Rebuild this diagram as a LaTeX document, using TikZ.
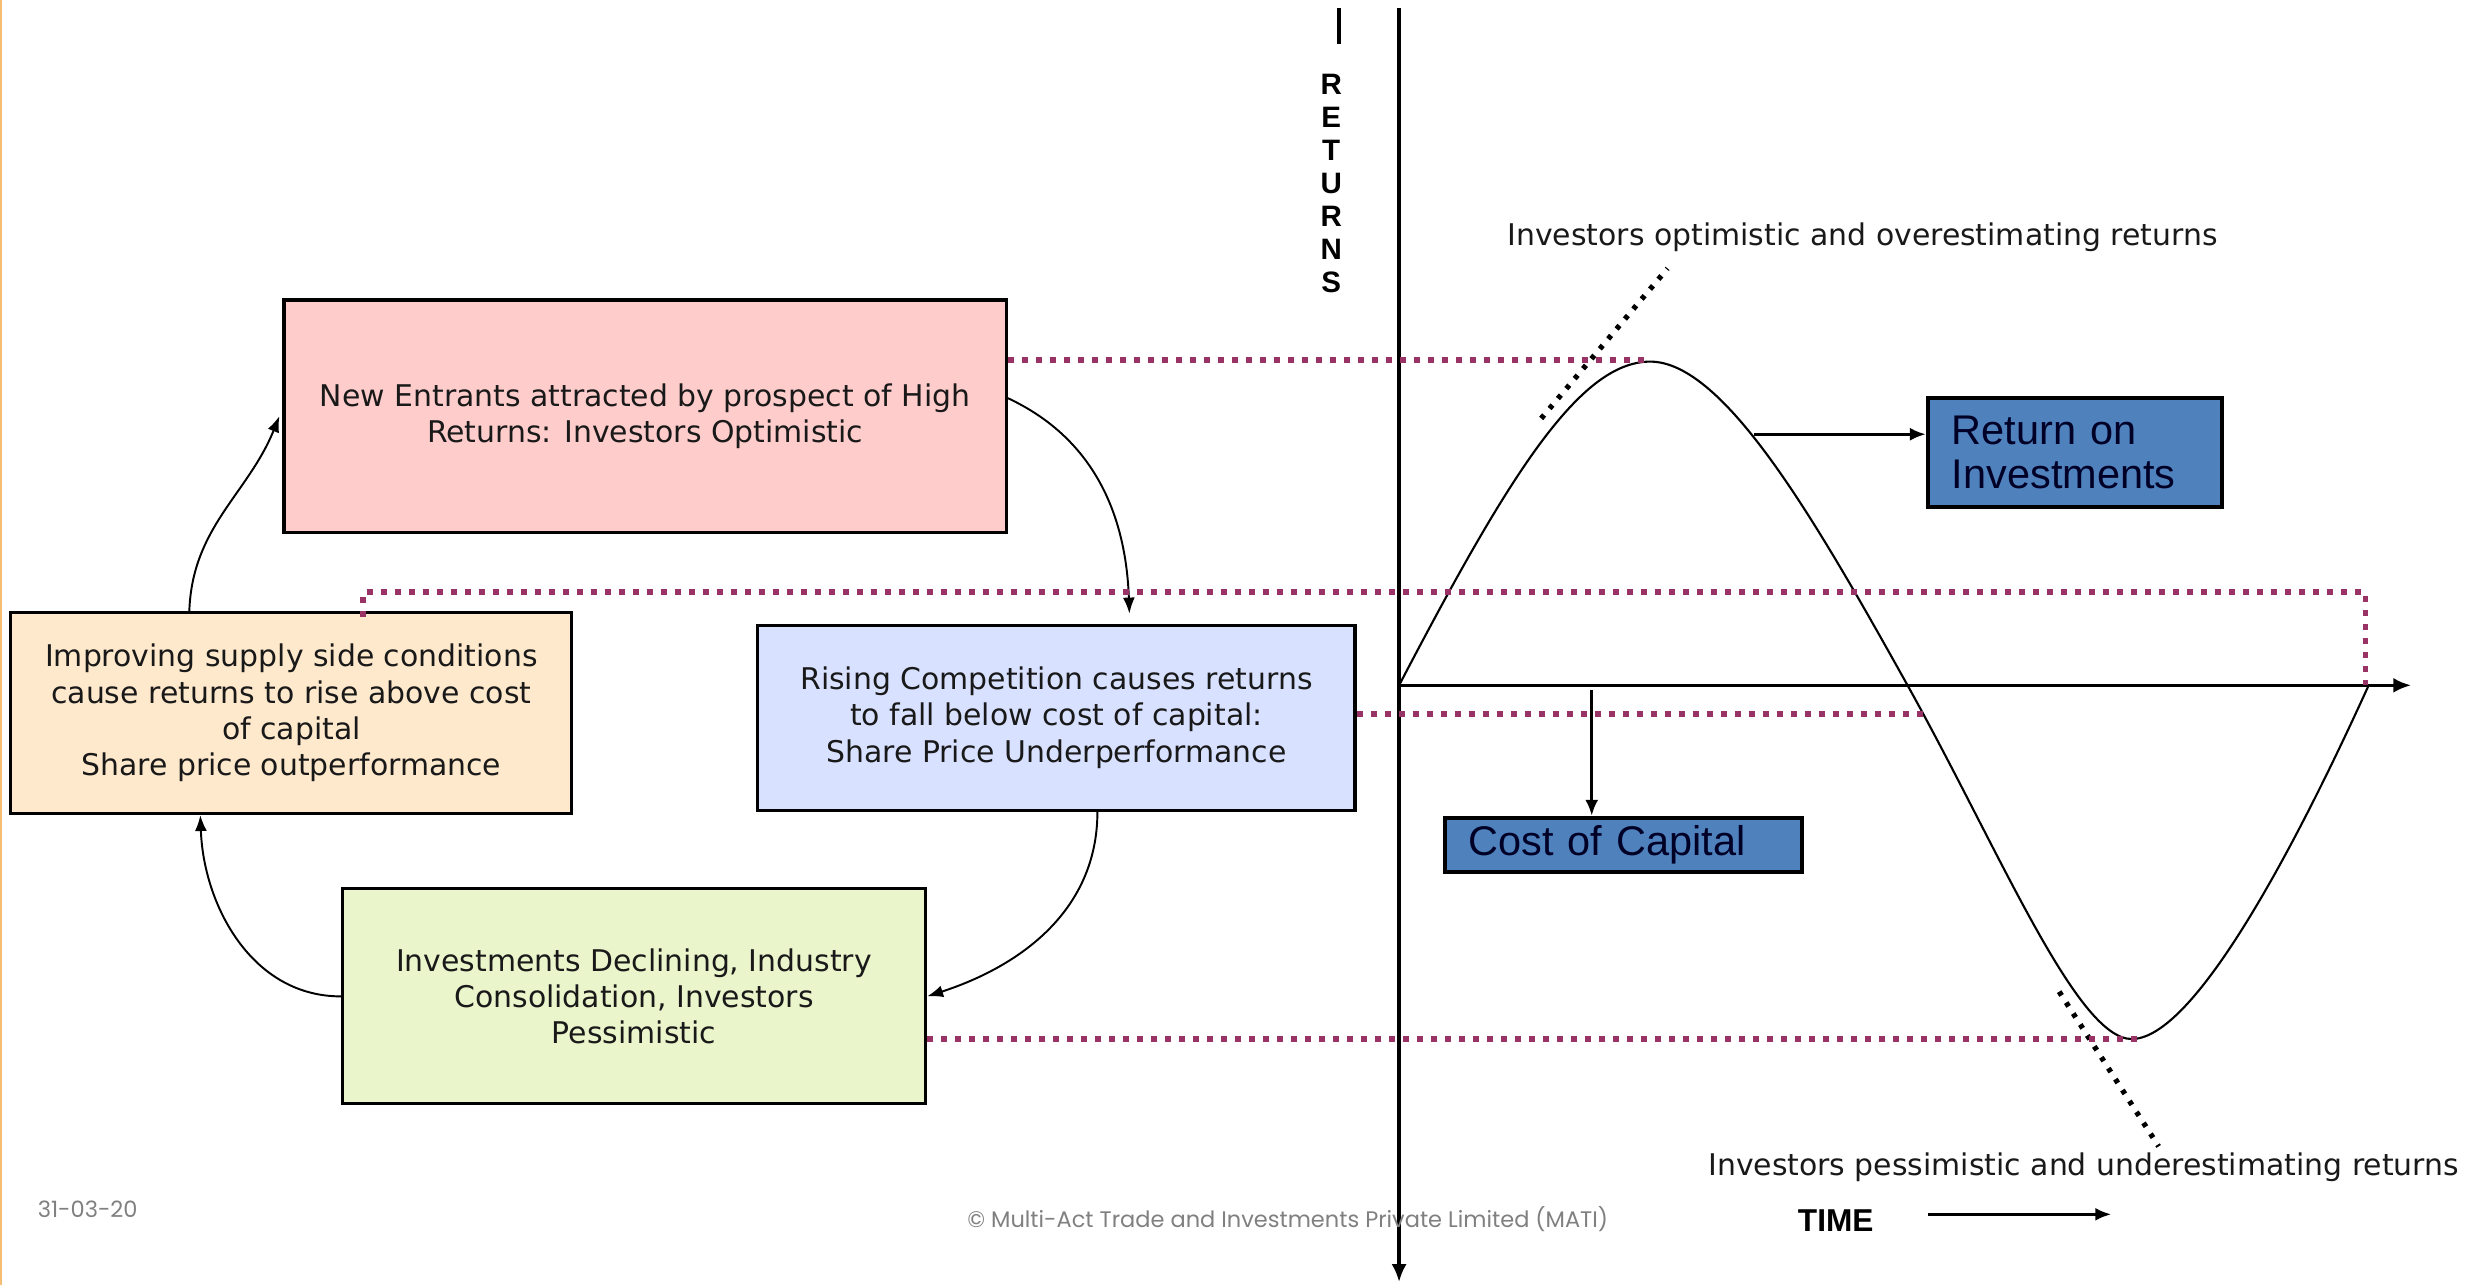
\documentclass[tikz,border=0pt]{standalone}
\usepackage{fontspec}
\setmainfont{DejaVu Sans}
\newfontfamily\tahomafont{Liberation Sans}
\newfontfamily\gothicfont{Poppins}
\usepackage{xcolor}
\usepackage{tikz}
\usetikzlibrary{arrows.meta, positioning}

\definecolor{levelpurple}{HTML}{993366}
\definecolor{highpink}{HTML}{FFCCCC}
\definecolor{risepeach}{HTML}{FFE9CC}
\definecolor{falllilac}{HTML}{D8E1FF}
\definecolor{lowlime}{HTML}{EBF5CC}
\definecolor{legendblue}{HTML}{4F81BD}
\definecolor{slideedge}{HTML}{F5BE74}

\tikzset{
  stage/.style={draw, line width=0.9pt, align=center, inner sep=0pt, text=black!90,
    font=\fontsize{8.5}{10.3}\selectfont},
  legend/.style={draw, line width=1.1pt, fill=legendblue, align=left, inner ysep=0pt,
    inner xsep=2.4mm, text=black!85!blue, font=\tahomafont\fontsize{11.8}{12.4}\selectfont},
  cycle arrow/.style={line width=0.55pt, -{Latex[length=1.6mm,width=1.2mm]}},
  pointer/.style={line width=0.9pt, -{Latex[length=1.6mm,width=1.3mm]}},
  axis/.style={line width=1pt, -{Latex[length=1.8mm,width=1.5mm]}},
  level/.style={levelpurple, line width=1.7pt, dash pattern=on 0.6mm off 0.8mm},
  tangent/.style={line width=1.5pt, dash pattern=on 0.45mm off 0.85mm},
  note/.style={text=black!90, font=\fontsize{8.5}{10}\selectfont},
  footer/.style={text=black!50, font=\gothicfont\fontsize{6.4}{8}\selectfont}
}

\begin{document}
\begin{tikzpicture}[x=0.1579mm, y=-0.1579mm]
  \useasboundingbox (0,0) rectangle (1568,814);
  \draw[slideedge, line width=0.5pt] (0.5,0) -- (0.5,814);

  % cycle of the four stages
  \node[stage, fill=highpink, minimum width=72.2mm, minimum height=23.2mm] (high) at (408.5,263.5)
    {New Entrants attracted by prospect of High\\Returns: Investors Optimistic};
  \node[stage, fill=falllilac, minimum width=59.7mm, minimum height=18.5mm] (fall) at (669,454.5)
    {Rising Competition causes returns\\to fall below cost of capital:\\Share Price Underperformance};
  \node[stage, fill=lowlime, minimum width=58.3mm, minimum height=21.5mm] (low) at (401.5,631)
    {Investments Declining, Industry\\Consolidation, Investors\\Pessimistic};
  \node[stage, fill=risepeach, minimum width=56.1mm, minimum height=20.1mm] (rise) at (184.5,451.5)
    {Improving supply side conditions\\cause returns to rise above cost\\of capital\\Share price outperformance};

  \draw[cycle arrow] ([yshift=1.8mm]high.east) to[out=-25,in=92] ([xshift=7.3mm,yshift=1mm]fall.north);
  \draw[cycle arrow] ([xshift=4.1mm]fall.south) to[out=-90,in=18] (low.east);
  \draw[cycle arrow] (low.west) to[out=180,in=-88] ([xshift=-9.1mm]rise.south);
  \draw[cycle arrow] ([xshift=-10.2mm]rise.north) to[out=88,in=-112] ([xshift=-0.3mm]high.west);

  % axes
  \coordinate (origin) at (886,434);
  \coordinate (ytop) at (886,5);
  \coordinate (ybottom) at (886,812);
  \coordinate (xend) at (1527,434);
  \draw[axis] (ytop) -- (ybottom);
  \draw[axis] (origin) -- (xend);
  \draw[line width=1pt] (848,5) -- (848,28);
  \node[font=\tahomafont\bfseries\fontsize{8.4}{9.4}\selectfont, align=center] (returns) at (843,116)
    {R\\E\\T\\U\\R\\N\\S};
  \node[font=\tahomafont\bfseries\fontsize{9}{10}\selectfont] (time) at (1162.5,773) {TIME};
  \coordinate (timeend) at (1337,769);
  \draw[pointer, line width=0.8pt] (1221,769) -- (timeend);

  % return on investments curve
  \coordinate (peak) at (1045,229);
  \coordinate (cross) at (1208,434);
  \coordinate (trough) at (1350,658);
  \coordinate (back) at (1500,434);
  \draw[line width=0.6pt] (origin) .. controls (955,302) and (1000,229) .. (peak)
    .. controls (1092,229) and (1150,330) .. (cross)
    .. controls (1266,538) and (1315,658) .. (trough)
    .. controls (1395,658) and (1470,500) .. (back);
  \draw[tangent] (976,265) -- (1056,170);
  \draw[tangent] (1304,628) -- (1367,726);
  \node[note] (optimistic) at (1179.5,150) {Investors optimistic and overestimating returns};
  \node[note] (pessimistic) at (1319.5,739) {Investors pessimistic and underestimating returns};

  % levels
  \coordinate (hilevel) at (1498,375);
  \coordinate (cost) at (1222,452);
  \coordinate (toplevel) at (1042,228);
  \coordinate (bottomlevel) at (1355,658);
  \draw[level] (toplevel -| high.east) -- (toplevel);
  \draw[level] ([xshift=7.2mm,yshift=-0.6mm]rise.north) |- (hilevel) -- (hilevel |- origin);
  \draw[level] (cost -| fall.east) -- (cost);
  \draw[level] (bottomlevel -| low.east) -- (bottomlevel);

  % legend boxes
  \node[legend, text width=24.6mm, minimum height=10.9mm] (roi) at (1314,286.5) {Return on\\Investments};
  \node[legend, text width=30.9mm, minimum height=5.4mm] (coc) at (1028,535) {Cost of Capital};
  \coordinate (roifrom) at (1111,275);
  \coordinate (cocfrom) at (1008,437);
  \draw[pointer] (roifrom) -- (roifrom -| roi.west);
  \draw[pointer] (cocfrom) -- (cocfrom |- coc.north);

  % footer
  \node[footer] (date) at (55.5,766) {31-03-20};
  \node[footer] (copyright) at (815.5,772) {© Multi-Act Trade and Investments Private Limited (MATI)};
\end{tikzpicture}
\end{document}
